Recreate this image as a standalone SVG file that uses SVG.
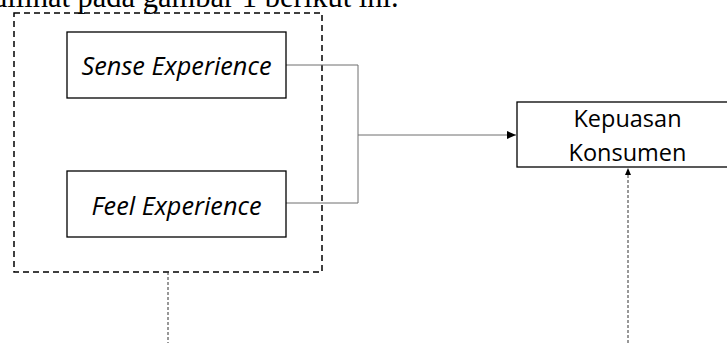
<svg xmlns="http://www.w3.org/2000/svg" width="727" height="343" viewBox="0 0 727 343">
<style>
.box{fill:#fff;stroke:#000;stroke-width:1.3}
.lbl{font-family:"Open Sans","Noto Sans",sans-serif;fill:#000}
.it{font-style:italic;font-size:25px}
.rg{font-size:23.5px}
.conn{fill:none;stroke:#6e6e6e;stroke-width:1}
.dot{fill:none;stroke:#333;stroke-width:1;stroke-dasharray:3,2}
</style>
<defs>
<marker id="ah" markerWidth="10" markerHeight="10" refX="9" refY="5" orient="auto" markerUnits="userSpaceOnUse">
<path d="M0,1 L9,5 L0,9 Z" fill="#000"/>
</marker>
<marker id="ah2" markerWidth="8" markerHeight="8" refX="7" refY="4" orient="auto" markerUnits="userSpaceOnUse">
<path d="M0,1 L7,4 L0,7 Z" fill="#000"/>
</marker>
</defs>
<text x="-8" y="7" font-family="Liberation Serif,serif" font-size="30.5" fill="#000">dilihat pada gambar 1 berikut ini.</text>
<g id="group-box">
<rect x="14" y="13" width="308" height="259" fill="none" stroke="#000" stroke-width="1.5" stroke-dasharray="6,4"/>
</g>
<g id="connectors">
<path class="conn" d="M286,65 H358 V203 H286"/>
<path class="conn" d="M358,135 H516" stroke="#333" marker-end="url(#ah)"/>
<path class="dot" d="M168,272 V343"/>
<path class="dot" d="M628,343 V168" marker-end="url(#ah2)"/>
</g>
<g id="sense">
<rect class="box" x="67" y="32" width="219" height="66"/>
<text class="lbl it" x="176.5" y="75" text-anchor="middle" textLength="190" lengthAdjust="spacingAndGlyphs">Sense Experience</text>
</g>
<g id="feel">
<rect class="box" x="67" y="171" width="219" height="66"/>
<text class="lbl it" x="176.5" y="215" text-anchor="middle" textLength="170" lengthAdjust="spacingAndGlyphs">Feel Experience</text>
</g>
<g id="kepuasan">
<rect class="box" x="517" y="102" width="215" height="65"/>
<text class="lbl rg" x="627.5" y="127" text-anchor="middle">Kepuasan</text>
<text class="lbl rg" x="627.5" y="161" text-anchor="middle">Konsumen</text>
</g>
</svg>
